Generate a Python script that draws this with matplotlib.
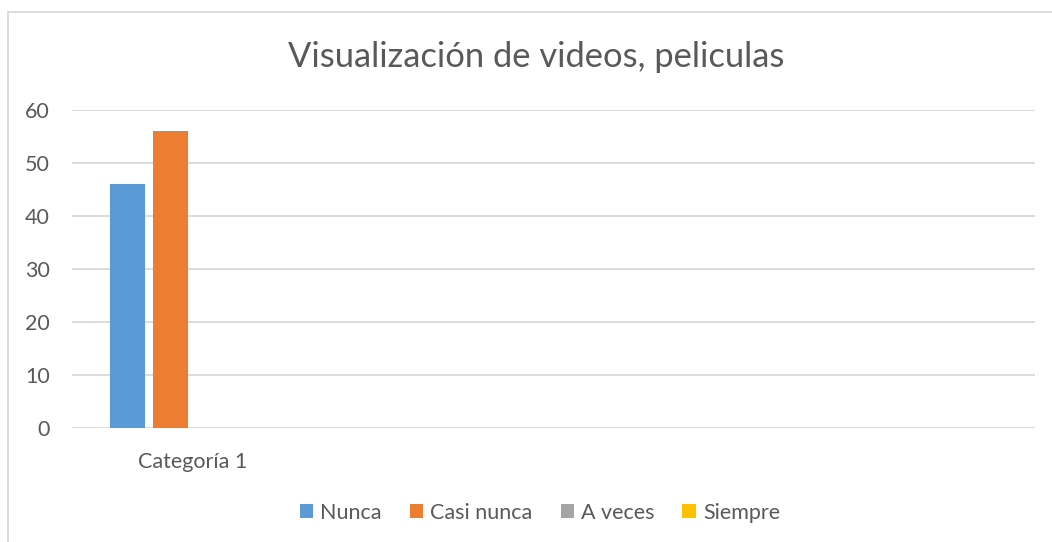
import matplotlib
matplotlib.use("Agg")
import matplotlib.pyplot as plt
import numpy as np
from matplotlib.lines import Line2D

title = "Visualización de videos, peliculas"
categories = ["Categoría 1", "", "", ""]
series = ["Nunca", "Casi nunca", "A veces", "Siempre"]
values = {
    "Nunca": [46, 0, 0, 0],
    "Casi nunca": [56, 0, 0, 0],
    "A veces": [0, 0, 0, 0],
    "Siempre": [0, 0, 0, 0],
}
colors = ["#5B9BD5", "#ED7D31", "#A5A5A5", "#FFC000"]
yticks = [0, 10, 20, 30, 40, 50, 60]

plt.rcParams['font.family'] = ['Lato', 'DejaVu Sans']
txt = "#595959"
grid = "#D9D9D9"

W, H = 1052, 542
fig = plt.figure(figsize=(W / 100, H / 100), dpi=100)
ax = fig.add_axes([72 / W, (H - 428) / H, (1035 - 72) / W, (428 - 110) / H])

x = np.arange(len(categories))
bw = 35 / 241
step = 43 / 241
for i, name in enumerate(series):
    off = (i - 1.5) * step
    ax.bar(x + off, values[name], width=bw, color=colors[i], label=name, zorder=3)

ax.set_xlim(-0.5, len(categories) - 0.5)
ax.set_ylim(0, 60)
ax.set_yticks(yticks)
ax.set_xticks(x)
ax.set_xticklabels(categories)
ax.yaxis.grid(True, color=grid, linewidth=1.3, zorder=0)
ax.tick_params(axis='both', length=0, labelsize=15.5, colors=txt)
ax.tick_params(axis='y', pad=16)
ax.tick_params(axis='x', pad=17)
for s in ax.spines.values():
    s.set_visible(False)

fig.text(536 / W, 1 - 57 / H, title, ha='center', va='center', fontsize=24.8, color=txt)

leg = fig.legend(loc='center', bbox_to_anchor=(540 / W, 1 - 513 / H), ncol=4,
                 frameon=False, fontsize=15.5, handlelength=0.62, handleheight=0.62,
                 handletextpad=0.33, columnspacing=1.3)
for t in leg.get_texts():
    t.set_color(txt)

# chart frame
fig.add_artist(Line2D([7.5 / W, 1], [1 - 11.5 / H, 1 - 11.5 / H], color=grid, linewidth=1.3))
fig.add_artist(Line2D([7.5 / W, 7.5 / W], [0, 1 - 11.5 / H], color=grid, linewidth=1.3))

fig.savefig("out.png", dpi=100)
